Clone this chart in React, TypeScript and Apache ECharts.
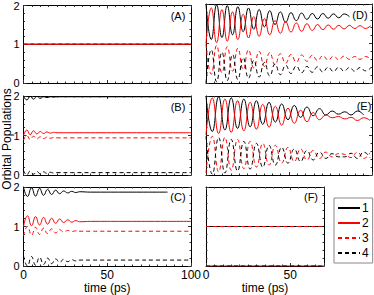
import React, { useEffect, useRef } from "react";
import * as echarts from "echarts";

// ---------------- DATA ----------------
// Panel A: all populations flat
const A_T = [0, 100];
const A_1 = [1, 1];
const A_2 = [1, 1];
const A_3 = [1, 1];
const A_4 = [1, 1];

// Panel B (fast, small early wiggles)
const B_T = [0, 2, 4, 6, 8, 10, 12, 14, 16, 18, 20, 30, 100];
const B_1 = [2.0, 1.9, 1.99, 1.92, 1.99, 1.94, 1.98, 1.96, 1.98, 1.97, 1.98, 1.98, 1.98];
const B_2 = [1.0, 1.14, 1.02, 1.12, 1.04, 1.1, 1.05, 1.09, 1.06, 1.08, 1.07, 1.07, 1.07];
const B_3 = [0.88, 1.0, 0.9, 0.98, 0.91, 0.97, 0.92, 0.96, 0.93, 0.95, 0.94, 0.94, 0.94];
const B_4 = [0.12, 0.0, 0.1, 0.02, 0.09, 0.03, 0.08, 0.04, 0.07, 0.05, 0.06, 0.06, 0.06];

// Panel C
const C_T = [0, 2.4, 4.8, 7.2, 9.6, 12, 14.4, 16.8, 19.2, 21.6, 24, 26.4, 28.8, 31.2, 33.6, 40, 60, 86, 100];
const C_1 = [2.0, 1.76, 1.98, 1.77, 1.96, 1.79, 1.94, 1.81, 1.92, 1.83, 1.9, 1.85, 1.89, 1.86, 1.88, 1.87, 1.87, 1.87];
const C_2 = [1.0, 1.27, 1.02, 1.25, 1.04, 1.23, 1.06, 1.21, 1.08, 1.19, 1.1, 1.17, 1.11, 1.15, 1.12, 1.13, 1.13, 1.13, 1.13];
const C_3 = [0.76, 1.0, 0.78, 0.98, 0.8, 0.96, 0.82, 0.94, 0.84, 0.92, 0.86, 0.9, 0.87, 0.89, 0.88, 0.88, 0.88, 0.88, 0.88];
const C_4 = [0.26, 0.0, 0.24, 0.02, 0.22, 0.04, 0.2, 0.06, 0.18, 0.09, 0.17, 0.11, 0.16, 0.13, 0.15, 0.15, 0.15, 0.15, 0.15];

// Panel D
const D_T = [0, 3.2, 6.4, 9.6, 12.8, 16, 19.2, 22.4, 25.6, 28.8, 32, 35.2, 38.4, 41.6, 44.8, 48, 51.2, 54.4, 57.6, 60.8, 64, 67.2, 70.4, 73.6, 76.8, 80, 83.2, 86.4, 89.6, 92.8, 96, 99.2];
const D_1 = [2.0, 1.1, 1.98, 1.15, 1.96, 1.22, 1.93, 1.3, 1.9, 1.36, 1.86, 1.42, 1.83, 1.48, 1.8, 1.54, 1.78, 1.58, 1.77, 1.61, 1.76, 1.62, 1.76, 1.64, 1.75, 1.65, 1.75, 1.68];
const D_2 = [1.0, 1.9, 1.02, 1.86, 1.06, 1.8, 1.1, 1.74, 1.14, 1.68, 1.18, 1.63, 1.22, 1.58, 1.26, 1.55, 1.29, 1.52, 1.31, 1.5, 1.33, 1.48, 1.35, 1.47, 1.36, 1.46, 1.37, 1.46, 1.38, 1.45, 1.38, 1.45];
const D_3 = [0.98, 0.22, 0.95, 0.26, 0.92, 0.3, 0.88, 0.34, 0.84, 0.38, 0.8, 0.42, 0.77, 0.46, 0.74, 0.5, 0.72, 0.53, 0.71, 0.55, 0.7, 0.57, 0.69, 0.58, 0.68, 0.59, 0.68, 0.6, 0.67, 0.6, 0.67, 0.61];
const D_4 = [0.0, 0.84, 0.03, 0.78, 0.06, 0.72, 0.09, 0.64, 0.12, 0.57, 0.15, 0.52, 0.18, 0.48, 0.21, 0.45, 0.24, 0.43, 0.26, 0.42, 0.27, 0.41, 0.28, 0.4, 0.29, 0.4, 0.3, 0.39, 0.3, 0.39, 0.31, 0.38];

// Panel E
const E_T = [0, 3.8, 7.6, 11.4, 15.2, 19, 22.8, 26.6, 30.4, 34.2, 38, 41.8, 45.6, 49.4, 53.2, 57, 60.8, 64.6, 68.4, 72.2, 76, 79.8, 83.6, 87.4, 91.2, 95, 98.8];
const E_1 = [2.0, 1.1, 1.98, 1.14, 1.95, 1.18, 1.92, 1.22, 1.88, 1.28, 1.84, 1.34, 1.8, 1.4, 1.76, 1.46, 1.72, 1.5, 1.68, 1.52, 1.62, 1.54, 1.6, 1.52, 1.62, 1.52];
const E_2 = [1.02, 1.95, 1.05, 1.92, 1.08, 1.88, 1.12, 1.84, 1.16, 1.79, 1.21, 1.74, 1.26, 1.69, 1.31, 1.64, 1.35, 1.58, 1.4, 1.52, 1.45, 1.48, 1.42, 1.46, 1.38, 1.45, 1.38];
const E_3 = [0.05, 0.98, 0.08, 0.95, 0.12, 0.9, 0.16, 0.85, 0.2, 0.8, 0.25, 0.75, 0.3, 0.7, 0.34, 0.66, 0.38, 0.62, 0.42, 0.58, 0.46, 0.54, 0.52, 0.44, 0.58, 0.42, 0.56];
const E_4 = [0.98, 0.02, 0.95, 0.05, 0.9, 0.1, 0.85, 0.15, 0.8, 0.2, 0.75, 0.25, 0.7, 0.3, 0.66, 0.34, 0.62, 0.38, 0.58, 0.42, 0.54, 0.46, 0.46, 0.55, 0.42, 0.58, 0.44];

// Panel F
const F_T = [0, 70];
const F_1 = [1, 1];
const F_2 = [0, 0];
const F_3 = [1, 1];
const F_4 = [0, 0];

const PANEL_LABELS = ["(A)", "(B)", "(C)", "(D)", "(E)", "(F)"];
const LEGEND_NAMES = ["1", "2", "3", "4"];
const X_TICK_INTERVAL = 50;
const Y_TICKS = [0, 1, 2];

// ---------------- LAYOUT ----------------
const FONT = "Liberation Sans, Arial, Helvetica, sans-serif";
const GRIDS = [
  { left: 23.5, top: 4, width: 167.5, height: 79 },
  { left: 23.5, top: 96, width: 167.5, height: 79 },
  { left: 23.5, top: 187, width: 167.5, height: 80 },
  { left: 206, top: 4, width: 166, height: 79 },
  { left: 206, top: 96, width: 166, height: 79 },
  { left: 206, top: 187, width: 118, height: 80 },
];
const X_MAX = [100, 100, 100, 100, 100, 70];
const LABEL_POS = [
  [178, 16], [178, 107], [178, 197], [360, 15], [364, 106], [311, 197],
];

const PANELS = [
  { t: A_T, s: [A_1, A_2, A_3, A_4] },
  { t: B_T, s: [B_1, B_2, B_3, B_4] },
  { t: C_T, s: [C_1, C_2, C_3, C_4] },
  { t: D_T, s: [D_1, D_2, D_3, D_4] },
  { t: E_T, s: [E_1, E_2, E_3, E_4] },
  { t: F_T, s: [F_1, F_2, F_3, F_4] },
];

const STYLES = [
  { color: "#000000", type: "solid" },
  { color: "#ff0000", type: "solid" },
  { color: "#ff0000", type: [4, 3] },
  { color: "#000000", type: [4, 3] },
];

function buildOption() {
  const xAxis: any[] = [];
  const yAxis: any[] = [];
  const series: any[] = [];
  const tickStyle = { color: "#333", width: 1 };
  for (let g = 0; g < 6; g++) {
    const bottomLabels = g === 2 || g === 5;
    const leftLabels = g < 3;
    const baseX = {
      type: "value",
      gridIndex: g,
      min: 0,
      max: X_MAX[g],
      interval: X_TICK_INTERVAL,
      splitLine: { show: false },
      axisLine: { show: true, onZero: false, lineStyle: { color: "#000", width: 1 } },
      axisTick: { show: true, inside: true, length: 3, lineStyle: tickStyle },
      minorTick: { show: true, splitNumber: 10, length: 1.5, lineStyle: tickStyle },
    };
    xAxis.push({
      ...baseX,
      position: "bottom",
      axisLabel: {
        show: bottomLabels,
        fontSize: 12,
        fontFamily: FONT,
        color: "#000",
        margin: 3,
        showMaxLabel: g === 2,
      },
      name: bottomLabels ? "time (ps)" : "",
      nameLocation: "middle",
      nameGap: 16,
      nameTextStyle: { fontSize: 12, fontFamily: FONT, color: "#000" },
    });
    const baseY = {
      type: "value",
      gridIndex: g,
      min: Y_TICKS[0],
      max: Y_TICKS[Y_TICKS.length - 1],
      interval: 1,
      splitLine: { show: false },
      axisLine: { show: true, onZero: false, lineStyle: { color: "#000", width: 1 } },
      axisTick: { show: true, inside: true, length: 3, lineStyle: tickStyle },
      minorTick: { show: true, splitNumber: 5, length: 1.5, lineStyle: tickStyle },
    };
    yAxis.push({
      ...baseY,
      position: "left",
      axisLabel: { show: leftLabels, fontSize: 11, fontFamily: FONT, color: "#000", margin: 4 },
    });
    const p = PANELS[g];
    p.s.forEach((vals, k) => {
      series.push({
        type: "line",
        name: LEGEND_NAMES[k],
        xAxisIndex: g,
        yAxisIndex: g,
        data: vals.map((v, i) => [p.t[i], v]),
        showSymbol: false,
        symbol: "none",
        smooth: 0.5,
        z: g === 0 && k === 1 ? 5 : 2,
        lineStyle: { color: STYLES[k].color, type: STYLES[k].type, width: 1 },
        itemStyle: { color: STYLES[k].color },
        silent: true,
      });
    });
  }
  for (let g = 0; g < 6; g++) {
    xAxis.push({
      type: "value",
      gridIndex: g,
      min: 0,
      max: X_MAX[g],
      interval: X_TICK_INTERVAL,
      position: "top",
      splitLine: { show: false },
      axisLabel: { show: false },
      axisLine: { show: true, onZero: false, lineStyle: { color: "#000", width: 1 } },
      axisTick: { show: true, inside: true, length: 3, lineStyle: tickStyle },
      minorTick: { show: true, splitNumber: 10, length: 1.5, lineStyle: tickStyle },
    });
    yAxis.push({
      type: "value",
      gridIndex: g,
      min: 0,
      max: 2,
      interval: 1,
      position: "right",
      splitLine: { show: false },
      axisLabel: { show: false },
      axisLine: { show: true, onZero: false, lineStyle: { color: "#000", width: 1 } },
      axisTick: { show: true, inside: true, length: 3, lineStyle: tickStyle },
      minorTick: { show: true, splitNumber: 5, length: 1.5, lineStyle: tickStyle },
    });
  }

  const graphic: any[] = PANEL_LABELS.map((txt, i) => ({
    type: "text",
    x: LABEL_POS[i][0],
    y: LABEL_POS[i][1],
    style: {
      text: txt,
      fontSize: 11,
      fontFamily: FONT,
      fill: "#000",
      textAlign: "center",
      textVerticalAlign: "middle",
    },
    z: 10,
  }));
  graphic.push({
    type: "text",
    x: 7,
    y: 139,
    rotation: Math.PI / 2,
    style: {
      text: "Orbital Populations",
      fontSize: 12,
      fontFamily: FONT,
      fill: "#000",
      textAlign: "center",
      textVerticalAlign: "middle",
    },
  });

  return {
    animation: false,
    backgroundColor: "#fff",
    grid: GRIDS.map((g) => ({ ...g, containLabel: false })),
    xAxis,
    yAxis,
    series,
    graphic,
    legend: {
      data: LEGEND_NAMES,
      orient: "vertical",
      left: 334,
      top: 198,
      itemWidth: 22,
      itemHeight: 10,
      itemGap: 3,
      padding: [4, 4, 4, 3],
      backgroundColor: "#fff",
      borderColor: "#888",
      borderWidth: 1,
      borderRadius: 0,
      selectedMode: false,
      itemStyle: { opacity: 0, borderWidth: 0 },
      textStyle: { fontSize: 12, fontFamily: FONT, color: "#000", padding: [0, 0, 0, -3] },
    },
  };
}

export default function App() {
  const ref = useRef<HTMLDivElement>(null);
  useEffect(() => {
    if (!ref.current) return;
    const chart = echarts.init(ref.current, null, { renderer: "svg" });
    chart.setOption(buildOption() as any);
    return () => chart.dispose();
  }, []);
  return (
    <div
      ref={ref}
      style={{ position: "absolute", left: 0, top: 0, width: 374, height: 295 }}
    />
  );
}
